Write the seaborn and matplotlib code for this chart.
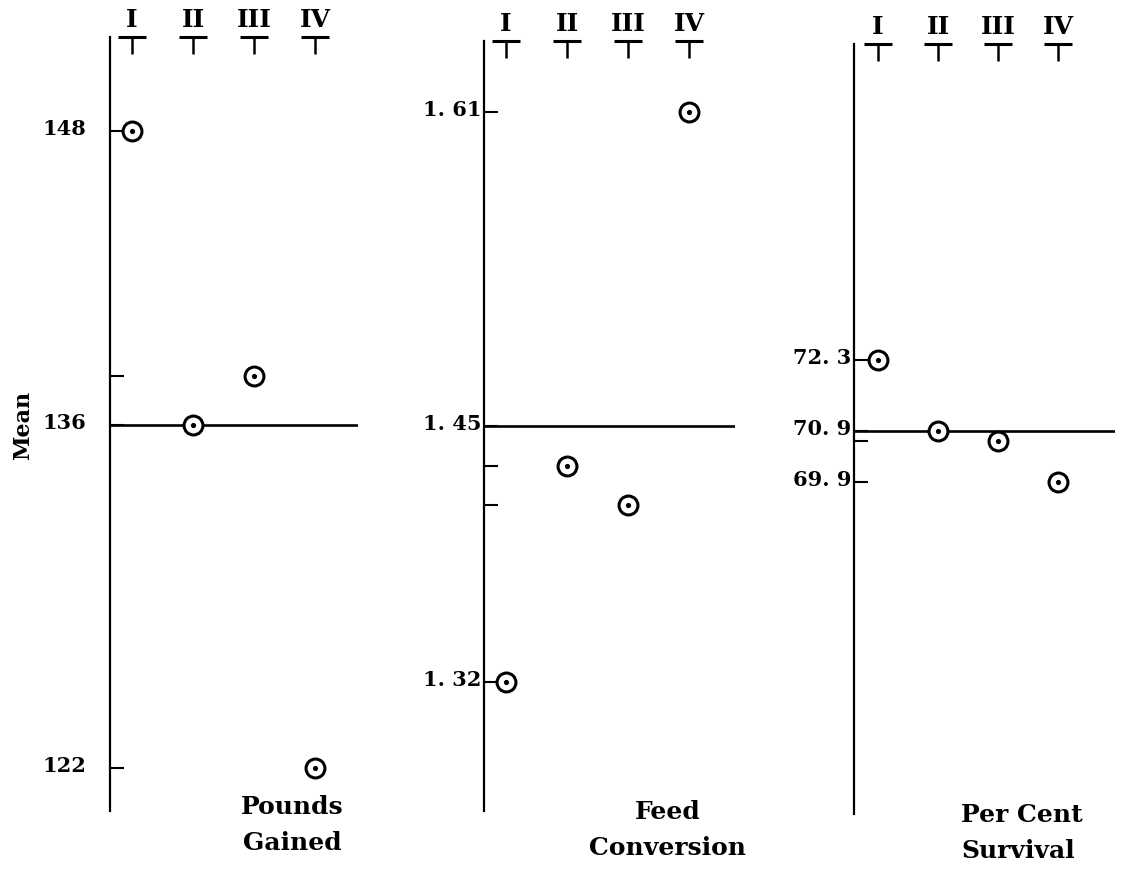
import matplotlib
matplotlib.use("Agg")
import matplotlib.pyplot as plt
import matplotlib.transforms as mtransforms
import seaborn as sns
import pandas as pd

# ---- data ----
groups = ["I", "II", "III", "IV"]
pounds_gained = [148, 136, 138, 122]
feed_conversion = [1.32, 1.43, 1.41, 1.61]
per_cent_survival = [72.3, 70.9, 70.7, 69.9]
grand_means = [136, 1.45, 70.9]

pounds_ticks = [148, 138, 136, 122]
pounds_tick_labels = ["148", "", "136", "122"]
feed_ticks = [1.61, 1.45, 1.43, 1.41, 1.32]
feed_tick_labels = ["1. 61", "1. 45", "", "", "1. 32"]
survival_ticks = [72.3, 70.9, 70.7, 69.9]
survival_tick_labels = ["72. 3", "70. 9", "", "69. 9"]
panel_titles = ["Pounds\nGained", "Feed\nConversion", "Per Cent\nSurvival"]
y_label = "Mean"

# ---- style ----
sns.set_theme(style="white")
plt.rcParams["font.family"] = ["DejaVu Serif", "DejaVu Sans"]

W, H = 1121, 870
fig = plt.figure(figsize=(W / 100, H / 100), dpi=100)

layout = [
    dict(left=110, right=358, top=38, bottom=812, xlim=(-0.36, 3.70), ylim=(120.24, 151.84), pad=17),
    dict(left=484, right=735, top=42, bottom=812, xlim=(-0.36, 3.75), ylim=(1.2545, 1.646), pad=2),
    dict(left=854, right=1115, top=45, bottom=815, xlim=(-0.40, 3.95), ylim=(63.37, 78.50), pad=2),
]
series = [pounds_gained, feed_conversion, per_cent_survival]
ticks = [pounds_ticks, feed_ticks, survival_ticks]
tick_labels = [pounds_tick_labels, feed_tick_labels, survival_tick_labels]
title_pos = [(292, 825, "center"), (668, 830, "center"), (961, 833, "left")]

up = mtransforms.ScaledTranslation(0, 0.05, fig.dpi_scale_trans)

for i, lay in enumerate(layout):
    ax = fig.add_axes([lay["left"] / W, 1 - lay["bottom"] / H,
                       (lay["right"] - lay["left"]) / W,
                       (lay["bottom"] - lay["top"]) / H])
    ax.set_facecolor("none")
    df = pd.DataFrame({"group": groups, "value": series[i]})

    # grand mean line
    ax.axhline(grand_means[i], color="black", lw=1.9, zorder=1)

    # circled-dot markers
    sns.scatterplot(data=df, x="group", y="value", ax=ax, marker="o", s=185,
                    facecolor="white", edgecolor="black", linewidth=2.2,
                    zorder=3, legend=False)
    sns.scatterplot(data=df, x="group", y="value", ax=ax, marker="o", s=14,
                    color="black", edgecolor="black", linewidth=0,
                    zorder=4, legend=False)

    ax.set_xlim(*lay["xlim"])
    ax.set_ylim(*lay["ylim"])
    ax.set_xlabel("")
    ax.set_ylabel("")

    # spines
    for s in ["top", "right", "bottom"]:
        ax.spines[s].set_visible(False)
    ax.spines["left"].set_linewidth(1.6)
    ax.spines["left"].set_color("black")

    # y ticks
    ax.set_yticks(ticks[i])
    ax.set_yticklabels(tick_labels[i], fontweight="bold")
    ax.tick_params(axis="y", direction="in", length=10, width=1.5,
                   pad=lay["pad"], labelsize=15, colors="black", left=True)
    for lab in ax.get_yticklabels():
        lab.set_transform(lab.get_transform() + up)

    # x ticks (top, T-shaped)
    ax.xaxis.tick_top()
    ax.set_xticks(range(len(groups)))
    ax.set_xticklabels(groups, fontweight="bold")
    ax.tick_params(axis="x", direction="in", length=12, width=1.8, pad=4,
                   labelsize=18, colors="black", top=True, bottom=False)
    trans = mtransforms.blended_transform_factory(ax.transData, ax.transAxes)
    ax.scatter(range(len(groups)), [1.0] * len(groups), marker="_", s=420,
               linewidths=2.2, color="black", transform=trans, clip_on=False)

    # bottom title
    x, y, al = title_pos[i]
    fig.text(x / W, 1 - y / H, panel_titles[i],
             ha=al, va="center", ma=al, fontsize=18, fontweight="bold",
             linespacing=1.65, color="black")

fig.text(23 / W, 1 - 425 / H, y_label, rotation=90, ha="center", va="center",
         fontsize=16, fontweight="bold", color="black")

fig.savefig("out.png", dpi=100)
